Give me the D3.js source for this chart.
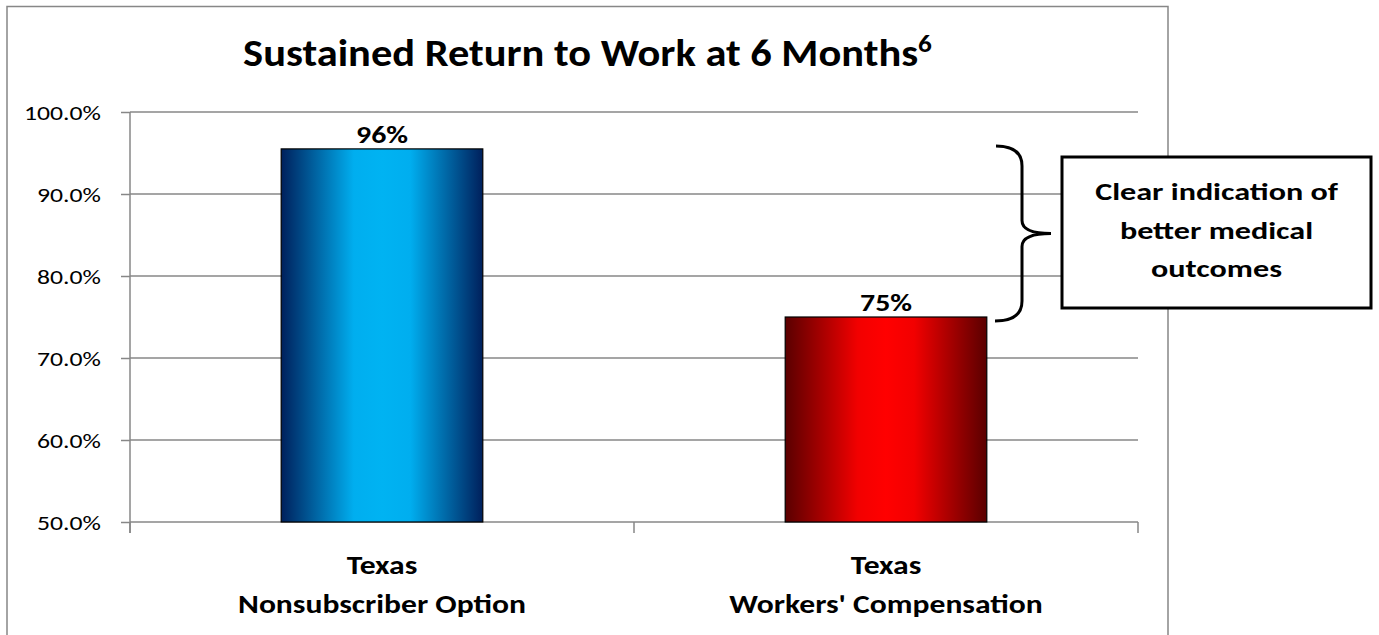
<!DOCTYPE html>
<html><head><meta charset="utf-8">
<script src="https://cdn.jsdelivr.net/npm/d3@7"></script>
<style>body{margin:0;background:#fff}svg{display:block}</style>
</head><body>
<svg id="c" width="1379" height="635"></svg>
<script>
// ---- data ----
const categories = [["Texas", "Nonsubscriber Option"], ["Texas", "Workers' Compensation"]];
const values = [0.955, 0.75];
const valueLabels = ["96%", "75%"];
const yTicks = [0.5, 0.6, 0.7, 0.8, 0.9, 1.0];
const titleText = "Sustained Return to Work at 6 Months";
const titleSup = "6";
const calloutLines = ["Clear indication of", "better medical", "outcomes"];

// ---- layout ----
const FONT = "Carlito, Calibri, Lato, 'Open Sans', sans-serif";
const svg = d3.select("#c");
const plot = {left: 130, right: 1138, top: 112, bottom: 522};
const x = d3.scaleBand().domain(d3.range(categories.length))
  .range([plot.left, plot.right]).paddingInner(0.6).paddingOuter(0.3);
const y = d3.scaleLinear().domain([0.5, 1.0]).range([plot.bottom, plot.top]);
const grey = "#878787";

// helper: scale a group of texts horizontally so that reference text has target width
function fitGroup(nodes, refNode, target) {
  const w = refNode.getComputedTextLength ? refNode.getBBox().width : target;
  const k = target / w;
  nodes.forEach(n => {
    const g = n.parentNode;
    const t = g.getAttribute("data-t");
    g.setAttribute("transform", t + ` scale(${k},1)`);
  });
}
function addText(parent, tx, ty, str, opts) {
  const g = parent.append("g").attr("data-t", `translate(${tx},${ty})`).attr("transform", `translate(${tx},${ty})`);
  const t = g.append("text").attr("x", 0).attr("y", 0)
    .attr("font-family", FONT).attr("font-size", opts.size)
    .attr("font-weight", opts.bold ? 700 : 400)
    .attr("text-anchor", opts.anchor || "middle").attr("fill", "#000").text(str);
  return t;
}

// defs: gradients
const defs = svg.append("defs");
const grads = [
  {id: "gBlue", dark: "#00205c", mid: "#00aeef", bright: "#00b3f2"},
  {id: "gRed", dark: "#5a0000", mid: "#f20000", bright: "#ff0000"}
];
grads.forEach(g => {
  const lg = defs.append("linearGradient").attr("id", g.id).attr("x1", "0").attr("x2", "1").attr("y1", "0").attr("y2", "0");
  [[0, g.dark], [0.36, g.mid], [0.5, g.bright], [0.64, g.mid], [1, g.dark]]
    .forEach(([o, c]) => lg.append("stop").attr("offset", o).attr("stop-color", c));
});

// outer frame (chart area)
svg.append("path").attr("d", `M7,640 V6.5 H1168 V640`).attr("fill", "none")
  .attr("stroke", grey).attr("stroke-width", 1.5);

// gridlines
svg.append("g").selectAll("line").data(yTicks).join("line")
  .attr("x1", plot.left).attr("x2", plot.right)
  .attr("y1", d => y(d)).attr("y2", d => y(d))
  .attr("stroke", grey).attr("stroke-width", 1.5);

// y axis
const yAxis = svg.append("g").attr("transform", `translate(${plot.left},0)`)
  .call(d3.axisLeft(y).tickValues(yTicks).tickFormat(d3.format(".1%")).tickSize(9).tickSizeOuter(0).tickPadding(18));
yAxis.select(".domain").remove();
yAxis.selectAll(".tick line").attr("stroke", grey).attr("stroke-width", 1.5);
yAxis.selectAll(".tick text").attr("font-family", FONT).attr("font-size", 21).attr("fill", "#000").attr("dy", "0.35em");
// left axis line
svg.append("line").attr("x1", plot.left).attr("x2", plot.left).attr("y1", plot.top).attr("y2", plot.bottom + 11)
  .attr("stroke", grey).attr("stroke-width", 1.5);
// category separator ticks
const sepX = [plot.left, (x(0) + x.bandwidth() + x(1)) / 2, plot.right];
svg.append("g").selectAll("line").data(sepX).join("line")
  .attr("x1", d => d).attr("x2", d => d).attr("y1", plot.bottom).attr("y2", plot.bottom + 11)
  .attr("stroke", grey).attr("stroke-width", 1.5);

// bars
svg.append("g").selectAll("rect").data(values).join("rect")
  .attr("x", (d, i) => x(i)).attr("width", x.bandwidth())
  .attr("y", d => y(d)).attr("height", d => y(0.5) - y(d))
  .attr("fill", (d, i) => `url(#${grads[i].id})`)
  .attr("stroke", "#000").attr("stroke-width", 1.2);

// value labels
const valNodes = values.map((v, i) =>
  addText(svg, x(i) + x.bandwidth() / 2, y(v) - 6, valueLabels[i], {size: 25, bold: true}).node());
fitGroup(valNodes, valNodes[0], 52);

// category labels
const catNodes = [];
categories.forEach((lines, i) => {
  lines.forEach((ln, j) => {
    catNodes.push(addText(svg, x(i) + x.bandwidth() / 2, 574 + j * 39, ln, {size: 26.5, bold: true}).node());
  });
});
fitGroup(catNodes, catNodes[1], 288);

// title
const titleG = svg.append("g").attr("data-t", `translate(587.5,66)`).attr("transform", `translate(587.5,66)`);
const title = titleG.append("text").attr("text-anchor", "middle").attr("font-family", FONT)
  .attr("font-weight", 700).attr("font-size", 37.5).attr("fill", "#000");
title.append("tspan").text(titleText);
title.append("tspan").attr("font-size", 24).attr("dy", -14).text(titleSup);
fitGroup([title.node()], title.node(), 689);

// brace annotation (spanning between the two bar tops)
const bTop = y(values[0]) - 3, bBot = y(values[1]) + 4, bMid = (bTop + bBot) / 2;
const bx0 = 996, bx1 = 1022, bx2 = 1051;
svg.append("path")
  .attr("d", `M${bx0},${bTop} Q${bx1},${bTop} ${bx1},${bTop + 20} L${bx1},${bMid - 13} Q${bx1},${bMid} ${bx2},${bMid}
              Q${bx1},${bMid} ${bx1},${bMid + 13} L${bx1},${bBot - 20} Q${bx1},${bBot} ${bx0 - 1},${bBot}`)
  .attr("fill", "none").attr("stroke", "#000").attr("stroke-width", 3);

// callout box
const box = {x: 1062, y: 157, w: 309, h: 151};
svg.append("rect").attr("x", box.x).attr("y", box.y).attr("width", box.w).attr("height", box.h)
  .attr("fill", "#fff").attr("stroke", "#000").attr("stroke-width", 3);
const cNodes = calloutLines.map((ln, i) =>
  addText(svg, box.x + box.w / 2, 200 + i * 38.5, ln, {size: 25, bold: true}).node());
fitGroup(cNodes, cNodes[0], 243);

// y tick labels horizontal fit
const tickNodes = yAxis.selectAll(".tick text").nodes();
const tw = tickNodes[tickNodes.length - 1].getBBox().width;
const kt = 77 / tw;
yAxis.selectAll(".tick text").attr("transform", `translate(-18,0) scale(${kt},1) translate(18,0)`);
</script>
</body></html>
